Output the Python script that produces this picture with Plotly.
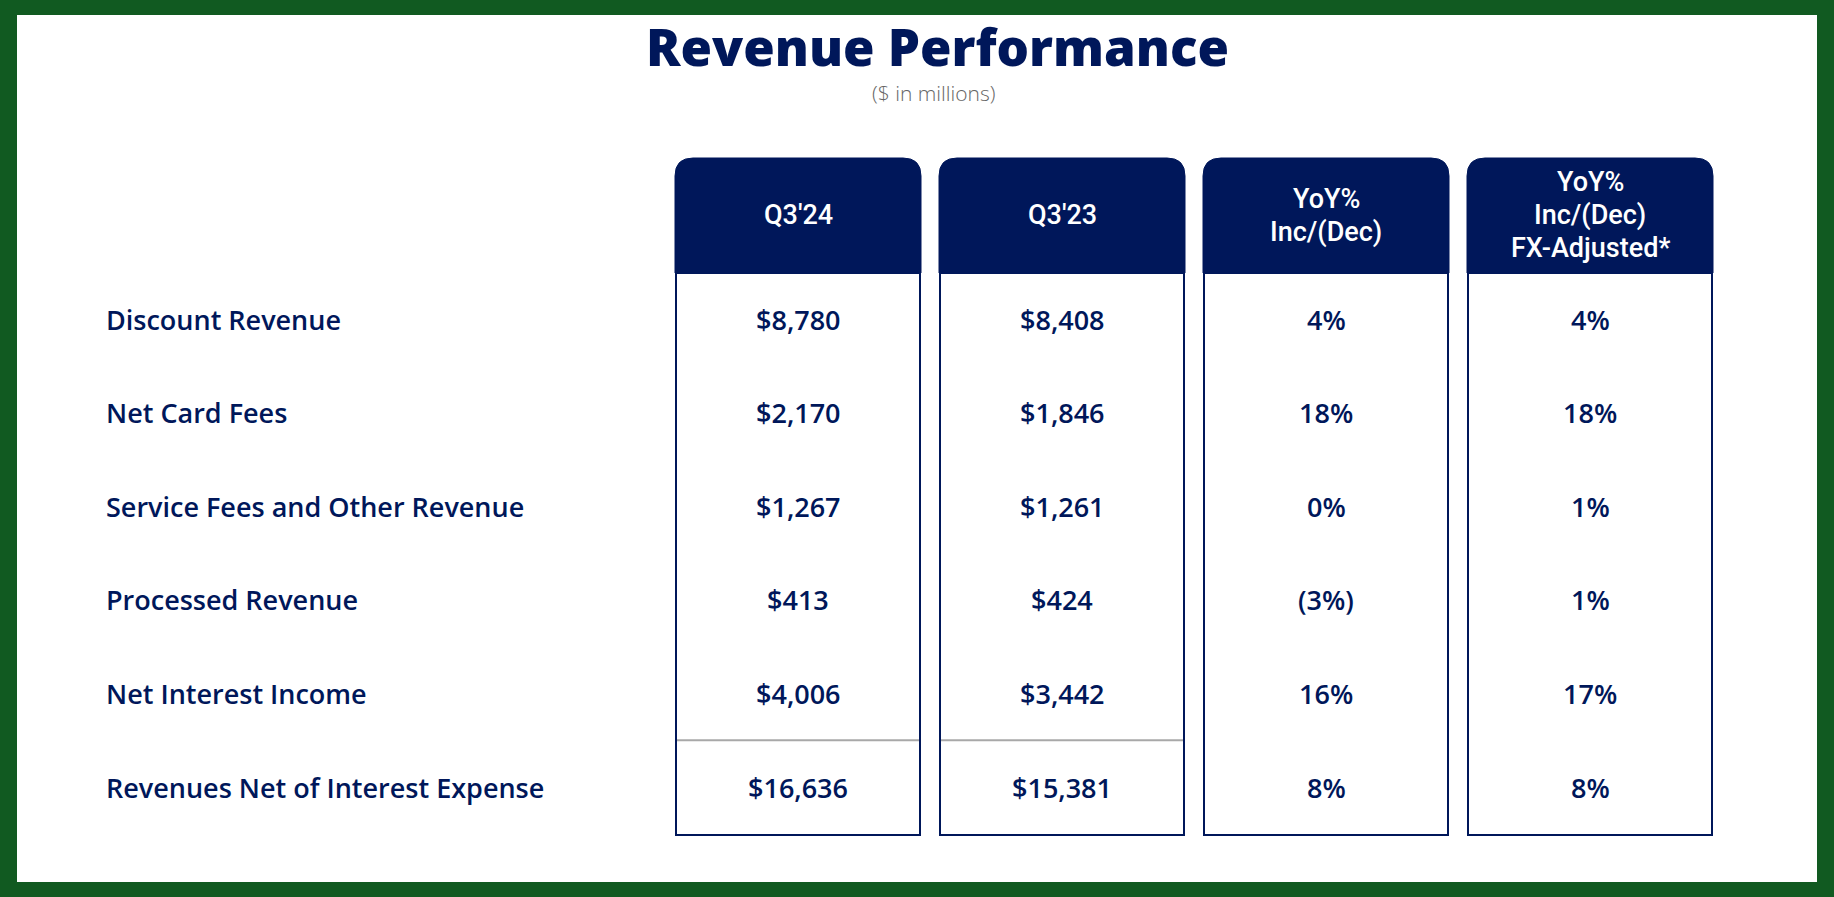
import plotly.graph_objects as go

W, H = 1834, 897
NAVY = "#00175A"
GREEN = "#115A21"

# table data
headers = ["Q3'24", "Q3'23", "YoY%<br>Inc/(Dec)", "YoY%<br>Inc/(Dec)<br>FX-Adjusted*"]
row_labels = [
    "Discount Revenue",
    "Net Card Fees",
    "Service Fees and Other Revenue",
    "Processed Revenue",
    "Net Interest Income",
    "Revenues Net of Interest Expense",
]
q3_24 = ["$8,780", "$2,170", "$1,267", "$413", "$4,006", "$16,636"]
q3_23 = ["$8,408", "$1,846", "$1,261", "$424", "$3,442", "$15,381"]
yoy = ["4%", "18%", "0%", "(3%)", "16%", "8%"]
yoy_fx = ["4%", "18%", "1%", "1%", "17%", "8%"]
columns = [q3_24, q3_23, yoy, yoy_fx]

# geometry (pixels)
col_left0, col_pitch, col_w = 675, 264, 246
head_top, head_bot, table_bot = 158, 273, 835
row_y0, row_step = 319, 93.6
radius = 18


def main():
    fig = go.Figure()
    shapes = []
    annotations = []

    # white page inside green frame
    shapes.append(dict(type="rect", x0=17, x1=1817, y0=15, y1=882,
                       fillcolor="white", line=dict(width=0), layer="below"))

    for c, col in enumerate(columns):
        x0 = col_left0 + c * col_pitch
        x1 = x0 + col_w
        r = radius
        path = (f"M {x0},{head_bot} L {x0},{head_top + r} "
                f"Q {x0},{head_top} {x0 + r},{head_top} L {x1 - r},{head_top} "
                f"Q {x1},{head_top} {x1},{head_top + r} L {x1},{head_bot} Z")
        shapes.append(dict(type="path", path=path, fillcolor=NAVY,
                           line=dict(color=NAVY, width=1)))
        shapes.append(dict(type="rect", x0=x0 + 1, x1=x1 - 1, y0=head_bot, y1=table_bot,
                           line=dict(color=NAVY, width=2), fillcolor="rgba(0,0,0,0)"))
        if c < 2:
            ysep = row_y0 + 4.5 * row_step
            shapes.append(dict(type="line", x0=x0 + 2, x1=x1 - 2, y0=ysep, y1=ysep,
                               line=dict(color="#A8A8A8", width=2)))

        # header text, one line at a time for tight spacing
        lines = headers[c].split("<br>")
        hc = 215
        for k, ln in enumerate(lines):
            yy = hc + (k - (len(lines) - 1) / 2) * 33
            annotations.append(dict(x=(x0 + x1) / 2, y=yy, text=ln, showarrow=False,
                                    xanchor="center", yanchor="middle",
                                    font=dict(family="Roboto", size=27, color="white", weight=500)))

        for i, v in enumerate(col):
            annotations.append(dict(x=(x0 + x1) / 2, y=row_y0 + i * row_step, text=v,
                                    showarrow=False, xanchor="center", yanchor="middle",
                                    font=dict(family="Open Sans", size=27, color=NAVY, weight=600)))

    for i, lab in enumerate(row_labels):
        annotations.append(dict(x=104, y=row_y0 + i * row_step, text=lab, showarrow=False,
                                xanchor="left", yanchor="middle",
                                font=dict(family="Open Sans", size=27, color=NAVY, weight=600)))

    annotations.append(dict(x=937, y=46, text="Revenue Performance", showarrow=False,
                            xanchor="center", yanchor="middle",
                            font=dict(family="Open Sans", size=51, color=NAVY, weight=800)))
    annotations.append(dict(x=934, y=93, text="($ in millions)", showarrow=False,
                            xanchor="center", yanchor="middle",
                            font=dict(family="Open Sans", size=21, color="#666666", weight=300)))

    fig.update_layout(
        width=W, height=H,
        margin=dict(l=0, r=0, t=0, b=0),
        paper_bgcolor=GREEN, plot_bgcolor=GREEN,
        xaxis=dict(range=[0, W], visible=False, fixedrange=True),
        yaxis=dict(range=[H, 0], visible=False, fixedrange=True),
        shapes=shapes, annotations=annotations,
        showlegend=False,
    )
    fig.write_html("out.html", config=dict(displayModeBar=False),
                   post_script="document.body.style.margin='0';")


main()
